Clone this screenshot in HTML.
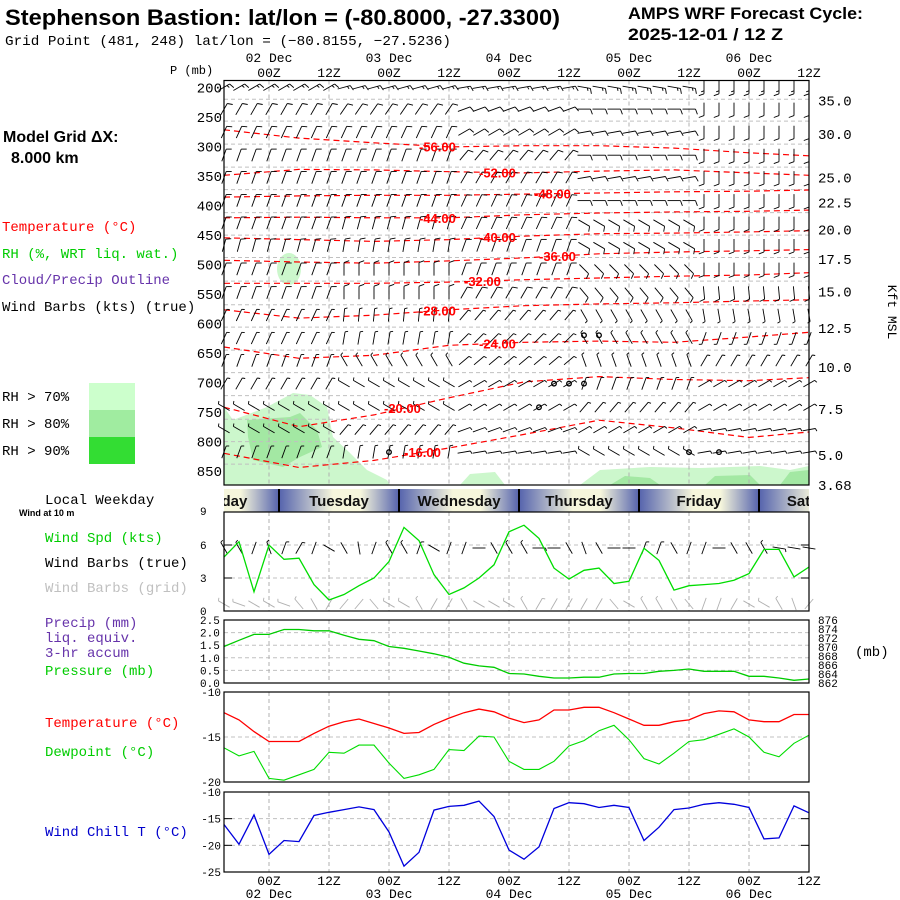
<!DOCTYPE html>
<html><head><meta charset="utf-8"><style>
html,body{margin:0;padding:0;background:#fff;}
svg{display:block;}
.mono{font-family:"Liberation Mono","DejaVu Sans Mono",monospace;}
.sans{font-family:"Liberation Sans",sans-serif;}
</style></head><body>
<svg id="chart" width="900" height="900" viewBox="0 0 900 900" xmlns="http://www.w3.org/2000/svg">
<defs>
<linearGradient id="dayGrad" x1="0" x2="1" y1="0" y2="0">
<stop offset="0" stop-color="#5563ad"/><stop offset="0.45" stop-color="#f6f6dc"/><stop offset="0.68" stop-color="#f6f6dc"/><stop offset="1" stop-color="#5563ad"/>
</linearGradient>
</defs>
<rect width="900" height="900" fill="#fff"/>
<text x="5" y="25" class="sans" font-weight="bold" font-size="22" textLength="555" lengthAdjust="spacingAndGlyphs">Stephenson Bastion:  lat/lon = (-80.8000, -27.3300)</text>
<text x="5" y="45" class="mono" font-size="14" textLength="446" lengthAdjust="spacingAndGlyphs">Grid Point (481, 248) lat/lon = (−80.8155, −27.5236)</text>
<text x="628" y="19" class="sans" font-weight="bold" font-size="17" textLength="235" lengthAdjust="spacingAndGlyphs">AMPS WRF Forecast Cycle:</text>
<text x="628" y="40" class="sans" font-weight="bold" font-size="17" textLength="155" lengthAdjust="spacingAndGlyphs">2025-12-01 / 12  Z</text>
<text x="170" y="74" class="mono" font-size="12">P (mb)</text>
<text x="3" y="142" class="sans" font-weight="bold" font-size="16">Model Grid ΔX:</text>
<text x="11" y="163" class="sans" font-weight="bold" font-size="16">8.000 km</text>
<text x="2" y="231" class="mono" font-size="14" fill="#ff0000">Temperature (°C)</text>
<text x="2" y="258" class="mono" font-size="14" fill="#00cc00">RH (%, WRT liq. wat.)</text>
<text x="2" y="284" class="mono" font-size="14" fill="#6633aa">Cloud/Precip Outline</text>
<text x="2" y="311" class="mono" font-size="14" fill="#000">Wind Barbs (kts) (true)</text>
<text x="2" y="401" class="mono" font-size="14">RH &gt; 70%</text>
<text x="2" y="428" class="mono" font-size="14">RH &gt; 80%</text>
<text x="2" y="455" class="mono" font-size="14">RH &gt; 90%</text>
<rect x="89" y="383" width="46" height="27" fill="#ccffcc"/>
<rect x="89" y="410" width="46" height="27" fill="#a0eca0"/>
<rect x="89" y="437" width="46" height="27" fill="#33dd33"/>
<text x="45" y="504" class="mono" font-size="14">Local Weekday</text>
<text x="19" y="516" class="sans" font-weight="bold" font-size="9">Wind at 10 m</text>
<text x="45" y="542" class="mono" font-size="14" fill="#00cc00">Wind Spd (kts)</text>
<text x="45" y="567" class="mono" font-size="14">Wind Barbs (true)</text>
<text x="45" y="592" class="mono" font-size="14" fill="#c0c0c0">Wind Barbs (grid)</text>
<text x="45" y="627" class="mono" font-size="14" fill="#6633aa">Precip (mm)</text>
<text x="45" y="642" class="mono" font-size="14" fill="#6633aa">liq. equiv.</text>
<text x="45" y="657" class="mono" font-size="14" fill="#6633aa">3-hr accum</text>
<text x="45" y="675" class="mono" font-size="14" fill="#00cc00">Pressure (mb)</text>
<text x="855" y="656" class="mono" font-size="14">(mb)</text>
<text x="45" y="727" class="mono" font-size="14" fill="#ff0000">Temperature (°C)</text>
<text x="45" y="756" class="mono" font-size="14" fill="#00cc00">Dewpoint (°C)</text>
<text x="45" y="836" class="mono" font-size="14" fill="#0000cc">Wind Chill T (°C)</text>
<text x="888" y="312" class="mono" font-size="13" transform="rotate(90 888 312)" text-anchor="middle">Kft MSL</text>
<g id="layer"></g>
</svg>
<script>
var hoursStart = -9;
var nSteps = 40;
var tempC = [-12.3,-13.1,-14.4,-15.5,-15.5,-15.5,-14.6,-13.8,-13.3,-13.0,-13.5,-14.0,-14.6,-14.5,-13.6,-12.9,-12.3,-11.9,-12.2,-12.9,-13.4,-13.1,-12.0,-12.0,-11.7,-11.7,-12.3,-13.0,-13.7,-13.7,-13.3,-13.1,-12.4,-12.1,-12.2,-13.1,-13.3,-13.3,-12.5,-12.5];
var dewC = [-16.2,-17.1,-16.6,-19.6,-19.8,-19.2,-18.6,-16.7,-16.8,-15.9,-15.9,-17.9,-19.6,-19.2,-18.6,-16.4,-16.5,-14.9,-15.0,-17.7,-18.6,-18.6,-17.7,-16.0,-15.4,-14.3,-13.7,-15.3,-17.4,-18.0,-16.8,-15.5,-15.3,-14.7,-14.1,-15.0,-16.7,-17.2,-15.7,-14.8];
var windChill = [-16.1,-19.8,-14.3,-21.7,-19.1,-19.3,-14.4,-13.8,-13.3,-12.8,-13.3,-17.5,-23.9,-21.3,-13.4,-12.7,-12.5,-11.7,-14.6,-20.9,-22.6,-20.3,-13.1,-12.0,-12.2,-12.9,-12.5,-12.9,-19.1,-16.6,-13.3,-13.0,-12.3,-12.0,-12.3,-12.9,-18.8,-18.6,-12.6,-13.9];
var windSpd = [4.9,6.3,1.75,6.0,4.7,4.8,2.4,1.0,1.5,2.3,3.0,4.5,7.6,6.4,3.3,1.5,2.1,3.0,4.2,7.2,7.8,6.6,3.9,2.9,3.7,3.9,2.5,2.7,5.7,4.6,1.9,2.3,2.4,2.5,2.8,3.4,5.6,5.6,3.1,4.0];
var sfcPres = [870.1,871.5,872.8,872.8,873.9,873.9,873.6,873.6,872.6,871.7,871.4,870.1,869.7,869.1,868.5,867.7,866.4,865.8,865.5,864.1,864.0,863.5,863.1,863.1,863.3,863.3,864.0,864.1,864.1,864.6,864.8,865.1,864.6,864.6,864.6,863.5,863.5,863.1,862.6,862.9];
var precipMm = [0,0,0,0,0,0,0,0,0,0,0,0,0,0,0,0,0,0,0,0,0,0,0,0,0,0,0,0,0,0,0,0,0,0,0,0,0,0,0,0];
var sfcDirTrue = [330,330,20,340,20,30,20,300,330,350,20,330,330,20,300,20,20,90,330,330,330,90,90,330,340,330,90,90,20,20,330,20,20,90,330,330,330,100,100,100];
var sfcDirGrid = [300,290,300,300,290,320,330,30,40,40,320,300,300,330,30,30,330,300,300,300,330,30,30,30,30,30,320,300,330,330,330,320,200,200,30,300,300,330,340,40];

var isoLevels = [-56,-52,-48,-44,-40,-36,-32,-28,-24,-20,-16];
var isoHours = [-9,6,21,36,51,66,81,96,108];
var isoP56 = [272,286,294,301,299,299,303,311,316];
var isoP52 = [349,339,340,343,345,342,340,345,349];
var isoP48 = [386,384,383,383,381,379,377,376,374];
var isoP44 = [421,420,421,421,416,413,411,410,408];
var isoP40 = [455,458,461,458,452,448,447,445,443];
var isoP36 = [493,496,498,494,489,482,479,477,475];
var isoP32 = [532,532,532,530,526,523,520,518,514];
var isoP28 = [577,591,586,577,570,567,565,562,560];
var isoP24 = [640,659,654,637,632,630,632,623,615];
var isoP20 = [742,775,755,726,699,690,695,697,692];
var isoP16 = [820,844,832,811,788,764,777,793,784];
var isoLabelHour = [30,42,53,30,42,54,39,30,42,23,27];

var barbLevels = [200,237,276,315,353,392,430,468,508,548,586,625,663,702,742,780,818];
var barbSpd = [15,10,10,10,10,10,10,10,10,10,5,5,5,5,5,5,5];
var barbDir0 = [60,30,25,20,20,20,20,15,20,20,25,25,20,30,300,300,20];
var barbDir1 = [75,35,25,20,20,20,15,10,0,0,5,10,330,300,300,40,10];
var barbDir2 = [80,70,60,40,30,25,25,20,20,30,40,45,50,60,60,70,80];
var barbDir3 = [100,90,80,90,80,90,120,120,135,140,150,330,340,20,40,60,300];
var barbDir4 = [180,180,180,180,180,180,180,180,180,175,170,200,30,60,60,80,80];

var dayNames = ["Monday","Tuesday","Wednesday","Thursday","Friday","Saturday"];
var dayStartHours = [-22,2,26,50,74,98];
var kftLabels = ["35.0","30.0","25.0","22.5","20.0","17.5","15.0","12.5","10.0","7.5","5.0","3.68"];
var kftPres = [222,279,353,395,441,491,546,608,674,745,823,874];
var dateLabels = ["02 Dec","03 Dec","04 Dec","05 Dec","06 Dec"];
var dateHours = [0,24,48,72,96];
var hourLabels = ["00Z","12Z","00Z","12Z","00Z","12Z","00Z","12Z","00Z","12Z"];
var hourTicks = [0,12,24,36,48,60,72,84,96,108];
var calmHour = [63,66,57,60,63,54,24,84,90];
var calmP = [620,620,702,702,702,742,818,818,818];

var NS = "http://www.w3.org/2000/svg";
var layer = document.getElementById("layer");
var X0 = 224, X1 = 809;
function xH(h){ return 269 + h*5; }
function xI(i){ return xH(hoursStart + i*3); }
function yP(p){ return 87.3 + (p-200)*383.7/650; }
function yWind(v){ return 611 - v*99/9; }
function yPrecip(v){ return 683 - v*63/2.5; }
function yPres(v){ return 683 - (v-862)*63/14; }
function yTemp(v){ return 692 - (v+10)*9; }
function yChill(v){ return 792 - (v+10)*80/15; }
function mk(tag, attrs, parent){
  var e = document.createElementNS(NS, tag);
  for (var k in attrs) e.setAttribute(k, attrs[k]);
  (parent||layer).appendChild(e);
  return e;
}
function txt(s, x, y, attrs, parent){
  var t = mk("text", attrs, parent);
  t.setAttribute("x", x); t.setAttribute("y", y);
  t.textContent = s;
  return t;
}
function vgrid(y0, y1){
  for (var k=0;k<hourTicks.length-1;k++){
    var l = mk("line",{x1:xH(hourTicks[k]),x2:xH(hourTicks[k]),y1:y0,y2:y1,stroke:"#b0b0b0","stroke-dasharray":"4,3","stroke-width":1});
    
    
  }
}
function hgrid(y){
  var l = mk("line",{x1:X0,x2:X1,y1:y,y2:y,stroke:"#c0c0c0","stroke-dasharray":"4,3","stroke-width":1});
  
  
}
function frame(y0, y1, name){
  var r = mk("rect",{x:X0,y:y0,width:X1-X0,height:y1-y0,fill:"none",stroke:"#000","stroke-width":1.2});
  
  
}
function series(vals, yf, color, name, w){
  var pts = [];
  for (var i=0;i<vals.length;i++) pts.push(xI(i).toFixed(1)+","+yf(vals[i]).toFixed(1));
  var p = mk("polyline",{points:pts.join(" "),fill:"none",stroke:color,"stroke-width":w||1.3});
  
  
}
function barb(cx, cy, dir, spd, color, name){
  var g = mk("g",{stroke:color,"stroke-width":0.9,fill:"none"});
  
  
  var L = 13, a = dir*Math.PI/180;
  var sx = cx - 0.5*L*Math.sin(a), sy = cy + 0.5*L*Math.cos(a);
  var ex = sx + L*Math.sin(a), ey = sy - L*Math.cos(a);
  mk("line",{x1:sx.toFixed(1),y1:sy.toFixed(1),x2:ex.toFixed(1),y2:ey.toFixed(1)},g);
  var n10 = Math.floor(spd/10), half = (spd%10)>=5;
  var ba = a + 70*Math.PI/180;
  var j;
  for (j=0;j<n10;j++){
    var px = ex - j*3*Math.sin(a), py = ey + j*3*Math.cos(a);
    mk("line",{x1:px.toFixed(1),y1:py.toFixed(1),x2:(px+5.5*Math.sin(ba)).toFixed(1),y2:(py-5.5*Math.cos(ba)).toFixed(1)},g);
  }
  if (half){
    var qx = ex - j*3*Math.sin(a), qy = ey + j*3*Math.cos(a);
    mk("line",{x1:qx.toFixed(1),y1:qy.toFixed(1),x2:(qx+3*Math.sin(ba)).toFixed(1),y2:(qy-3*Math.cos(ba)).toFixed(1)},g);
  }
}

var PT = 80.5, PB = 485;
var rh1 = mk("path",{d:"M224,407 L233,420 L267,407 L293,393 L310,395 L327,407 L333,437 L350,453 L367,470 L387,480 L390,485 L224,485 Z",fill:"#ccf7cc"});


var rh2 = mk("path",{d:"M247,420 L290,417 L300,413 L317,430 L322,447 L300,457 L283,467 L253,460 L248,437 Z",fill:"#a3e8a3"});


var rh3 = mk("ellipse",{cx:289,cy:269,rx:12,ry:16,fill:"#ccf7cc"});


var rh4 = mk("path",{d:"M460,485 L470,474 L495,472 L505,485 Z M580,485 L600,470 L650,467 L700,468 L760,466 L790,470 L809,466 L809,485 Z",fill:"#ccf7cc"});


var rh5 = mk("path",{d:"M610,485 L625,476 L650,478 L660,485 Z M705,485 L715,476 L750,475 L760,485 Z M780,485 L790,472 L809,470 L809,485 Z",fill:"#a3e8a3"});



for (var k=0;k<barbLevels.length;k++) hgrid(yP(barbLevels[k])+12);
vgrid(PT, PB);

var isoP = [isoP56,isoP52,isoP48,isoP44,isoP40,isoP36,isoP32,isoP28,isoP24,isoP20,isoP16];
function isoAt(arr, h){
  for (var j=0;j<isoHours.length-1;j++){
    if (h>=isoHours[j] && h<=isoHours[j+1]){
      var f=(h-isoHours[j])/(isoHours[j+1]-isoHours[j]);
      return arr[j]+(arr[j+1]-arr[j])*f;
    }
  }
  return arr[arr.length-1];
}
for (var m=0;m<isoLevels.length;m++){
  var pts=[];
  for (var j=0;j<isoHours.length;j++) pts.push(xH(isoHours[j]).toFixed(1)+","+yP(isoP[m][j]).toFixed(1));
  var iso = mk("polyline",{points:pts.join(" "),fill:"none",stroke:"#ff0000","stroke-width":1.2,"stroke-dasharray":"6,4"});
  
  
}
var barbDirs = [barbDir0,barbDir1,barbDir2,barbDir3,barbDir4];
for (var k=0;k<barbLevels.length;k++){
  for (var i=0;i<nSteps;i++){
    var seg = Math.min(4, Math.floor(i/8));
    barb(xI(i), yP(barbLevels[k]), barbDirs[seg][k], barbSpd[k], "#000", "upper-air-wind-barb");
  }
}
for (var m=0;m<isoLevels.length;m++){
  var lh = isoLabelHour[m];
  var lab = txt(isoLevels[m].toFixed(2), xH(lh), yP(isoAt(isoP[m], lh+4))+5, {class:"sans","font-size":13,"font-weight":"bold",fill:"#ff0000"});
  
  
}
for (var c=0;c<calmHour.length;c++){
  var cc = mk("circle",{cx:xH(calmHour[c]),cy:yP(calmP[c]),r:2.3,fill:"none",stroke:"#000","stroke-width":1.3});
  
  
}
frame(PT, PB, "upper-air-panel");
for (var p=200;p<=850;p+=50){
  var pl = txt(String(p), 222, yP(p)+5, {class:"mono","font-size":14,"text-anchor":"end"});
  
  
}
for (var k=0;k<kftLabels.length;k++){
  var kl = txt(kftLabels[k], 818, yP(kftPres[k])+5, {class:"mono","font-size":14});
  
  
}
for (var d=0;d<dateLabels.length;d++){
  var dl = txt(dateLabels[d], xH(dateHours[d]), 62, {class:"mono","font-size":13,"text-anchor":"middle"});
  
  
}
for (var k=0;k<hourLabels.length;k++){
  var hl = txt(hourLabels[k], xH(hourTicks[k]), 77, {class:"mono","font-size":13,"text-anchor":"middle"});
  
  
}

var dayClip = mk("clipPath",{id:"dayclip"});
mk("rect",{x:X0,y:489,width:X1-X0,height:23},dayClip);
var dayG = mk("g",{"clip-path":"url(#dayclip)"});


for (var d=0;d<dayNames.length;d++){
  var x0 = xH(dayStartHours[d]);
  var seg = mk("rect",{x:x0,y:489,width:120,height:23,fill:"url(#dayGrad)"},dayG);
  
  
  var sep = mk("line",{x1:x0,x2:x0,y1:489,y2:512,stroke:"#000","stroke-width":2},dayG);
  
  
  var dn = txt(dayNames[d], x0+60, 506, {class:"sans","font-size":15,"font-weight":"bold","text-anchor":"middle",fill:"#111"}, dayG);
  
  
}

hgrid(yWind(6)); hgrid(yWind(3));
vgrid(512, 611);
for (var i=0;i<nSteps;i++){
  barb(xI(i), 548, sfcDirTrue[i], Math.round(windSpd[i]), "#000", "surface-wind-barb-true");
  barb(xI(i), 604, sfcDirGrid[i], Math.round(windSpd[i]), "#b0b0b0", "surface-wind-barb-grid");
}
series(windSpd, yWind, "#00dd00", "wind-speed-line");
frame(512, 611, "wind-panel");
var wt = [9,6,3,0];
for (var k=0;k<wt.length;k++){
  var t = txt(String(wt[k]), 200, yWind(wt[k])+ (k==0?3:4), {class:"mono","font-size":11});
  
  
  var tk = mk("line",{x1:X0,x2:X0+8,y1:yWind(wt[k]),y2:yWind(wt[k]),stroke:"#000"});
  
  
  var tk2 = mk("line",{x1:X1-8,x2:X1,y1:yWind(wt[k]),y2:yWind(wt[k]),stroke:"#000"});
  
  
}

var pv = [0.5,1.0,1.5,2.0];
for (var k=0;k<pv.length;k++) hgrid(yPrecip(pv[k]));
vgrid(620, 683);
series(precipMm, yPrecip, "#6633aa", "precip-line", 1);
series(sfcPres, yPres, "#00cc00", "surface-pressure-line");
frame(620, 683, "precip-pressure-panel");
var pl2 = ["2.5","2.0","1.5","1.0","0.5","0.0"];
for (var k=0;k<pl2.length;k++){
  var t = txt(pl2[k], 200, yPrecip(parseFloat(pl2[k]))+4, {class:"mono","font-size":11});
  
  
}
for (var v=862; v<=876; v+=2){
  var t = txt(String(v), 818, yPres(v)+4, {class:"mono","font-size":11});
  
  
}

hgrid(yTemp(-15));
vgrid(692, 782);
series(tempC, yTemp, "#ff0000", "temperature-line");
series(dewC, yTemp, "#00dd00", "dewpoint-line", 1.1);
frame(692, 782, "temperature-panel");
var tt = [-10,-15,-20];
for (var k=0;k<tt.length;k++){
  var t = txt(String(tt[k]), 221, yTemp(tt[k])+4, {class:"mono","font-size":11,"text-anchor":"end"});
  
  
}

hgrid(yChill(-15)); hgrid(yChill(-20));
vgrid(792, 872);
series(windChill, yChill, "#0000dd", "wind-chill-line");
frame(792, 872, "wind-chill-panel");
var ct = [-10,-15,-20,-25];
for (var k=0;k<ct.length;k++){
  var t = txt(String(ct[k]), 221, yChill(ct[k])+4, {class:"mono","font-size":11,"text-anchor":"end"});
  
  
  if (k==1||k==2){
    var tk = mk("line",{x1:X0,x2:X0+8,y1:yChill(ct[k]),y2:yChill(ct[k]),stroke:"#000"});
    
    
    var tk2 = mk("line",{x1:X1-8,x2:X1,y1:yChill(ct[k]),y2:yChill(ct[k]),stroke:"#000"});
    
    
  }
}
for (var k=0;k<hourLabels.length;k++){
  var hl = txt(hourLabels[k], xH(hourTicks[k]), 885, {class:"mono","font-size":13,"text-anchor":"middle"});
  
  
}
for (var d=0;d<dateLabels.length;d++){
  var dl = txt(dateLabels[d], xH(dateHours[d]), 898, {class:"mono","font-size":13,"text-anchor":"middle"});
  
  
}
</script>
</body></html>
